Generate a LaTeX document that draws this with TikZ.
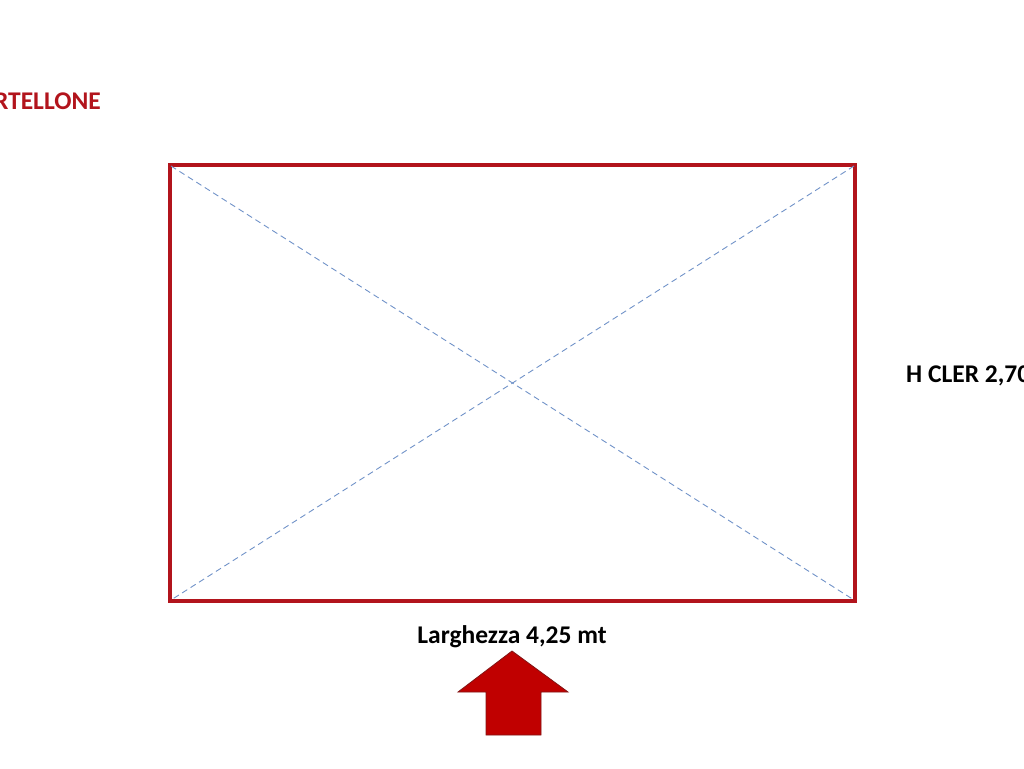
\documentclass[tikz,border=0pt]{standalone}
\usepackage{fontspec}
\setmainfont{Carlito}
\usepackage{xcolor}
\usetikzlibrary{positioning}
\definecolor{boardred}{RGB}{178,20,28}
\definecolor{arrowred}{RGB}{192,0,0}
\definecolor{arrowedge}{RGB}{130,20,20}
\definecolor{diagblue}{RGB}{112,146,200}
\tikzset{%
	board/.style    = {draw=boardred, line width=4pt, rectangle, inner sep=0pt,
		minimum width = 685pt, minimum height = 436pt},
	label/.style    = {font=\fontsize{25.5}{30}\selectfont\bfseries, inner sep=0pt},
	diag/.style     = {draw=diagblue, line width=0.9pt, dash pattern=on 6pt off 4pt}
}

\begin{document}
\begin{tikzpicture}[x=1pt, y=-1pt]
        \useasboundingbox (0,0) rectangle (1024,768);
        \draw
            node at (512.5,383)[board] (bd) {}
            node [label, text=boardred, anchor=base east] at (101,109) (title) {RTELLONE}
            node [label, anchor=base west] at (906,382) (hgt) {H CLER 2,70}
            node [label, anchor=base] at (512,643) (wid) {Larghezza 4,25 mt};

        \draw[diag] ([shift={(3pt,-3pt)}]bd.north west) -- ([shift={(-3pt,3pt)}]bd.south east);
        \draw[diag] ([shift={(-3pt,-3pt)}]bd.north east) -- ([shift={(3pt,3pt)}]bd.south west);

        % arrow pointing up to the width label
        \filldraw[fill=arrowred, draw=arrowedge, line width=0.8pt]
            (512,651) -- (568,692) -- (541,692) -- (541,735)
            -- (486,735) -- (486,692) -- (458,692) -- cycle;
    \end{tikzpicture}
\end{document}
